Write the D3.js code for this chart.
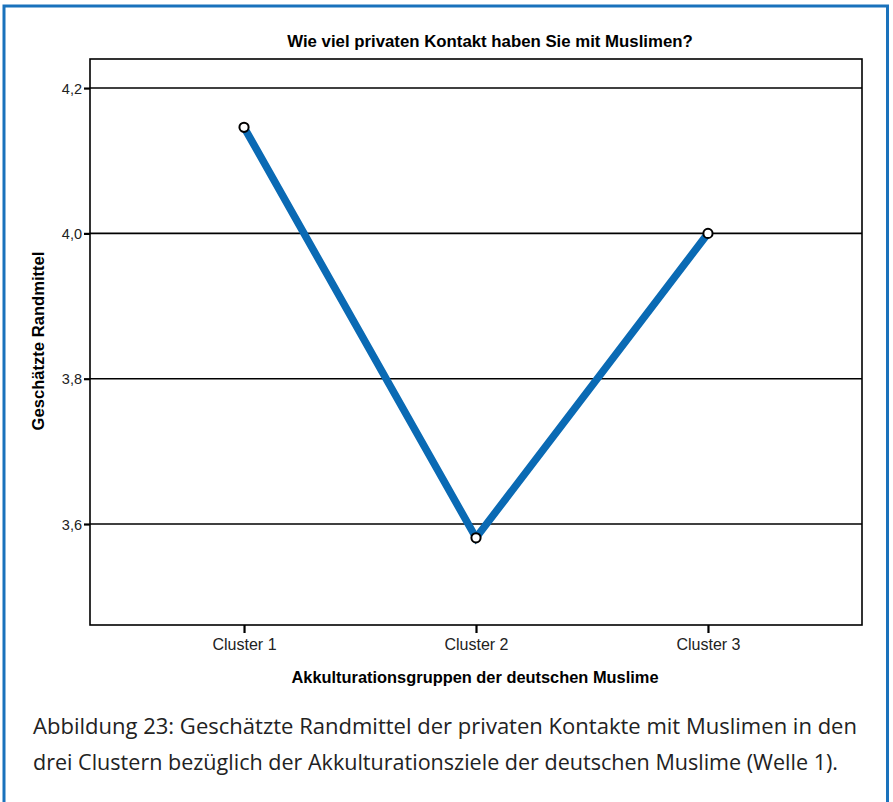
<!DOCTYPE html>
<html><head><meta charset="utf-8">
<script src="https://cdn.jsdelivr.net/npm/d3@7"></script>
<style>body{margin:0;background:#fff}svg{display:block}</style>
</head><body>
<svg id="c" width="893" height="802"></svg>
<script>
const categories = ["Cluster 1", "Cluster 2", "Cluster 3"];
const values = [4.146, 3.581, 4.0];
const yTicks = [3.6, 3.8, 4.0, 4.2];
const title = "Wie viel privaten Kontakt haben Sie mit Muslimen?";
const xTitle = "Akkulturationsgruppen der deutschen Muslime";
const yTitle = "Geschätzte Randmittel";
const caption = ["Abbildung 23: Geschätzte Randmittel der privaten Kontakte mit Muslimen in den",
                 "drei Clustern bezüglich der Akkulturationsziele der deutschen Muslime (Welle 1)."];

const FF = "Liberation Sans, Arial, sans-serif";
const svg = d3.select("#c");
// outer blue frame
svg.append("rect").attr("x",4).attr("y",6).attr("width",883.5).attr("height",810)
  .attr("fill","none").attr("stroke","#1a72bc").attr("stroke-width",3);

const L=90, R=862, T=59, B=625;
const x = d3.scalePoint().domain(categories).range([L,R]).padding(0.664);
const y = d3.scaleLinear().domain([3.461,4.24]).range([B,T]);

// grid lines
svg.append("g").selectAll("line").data(yTicks).join("line")
  .attr("x1",L).attr("x2",R).attr("y1",d=>y(d)).attr("y2",d=>y(d))
  .attr("stroke","#000").attr("stroke-width",1.6);

// frame
svg.append("rect").attr("x",L).attr("y",T).attr("width",R-L).attr("height",B-T)
  .attr("fill","none").attr("stroke","#000").attr("stroke-width",1.6);

const fmt = d => d3.format(".1f")(d).replace(".",",");
const ya = svg.append("g").attr("transform",`translate(${L},0)`)
  .call(d3.axisLeft(y).tickValues(yTicks).tickFormat(fmt).tickSize(6).tickPadding(2));
ya.select(".domain").remove();
ya.selectAll("line").attr("stroke","#000").attr("stroke-width",2.2);
ya.selectAll("text").attr("font-family",FF).attr("font-size",14.5).attr("fill","#222").attr("dy","0.35em");

const xa = svg.append("g").attr("transform",`translate(0,${B})`)
  .call(d3.axisBottom(x).tickSize(8).tickPadding(6));
xa.select(".domain").remove();
xa.selectAll("line").attr("stroke","#000").attr("stroke-width",2.2);
xa.selectAll("text").attr("font-family",FF).attr("font-size",16).attr("fill","#222");

// line
const data = categories.map((c,i)=>({c,v:values[i]}));
svg.append("path").datum(data)
  .attr("d", d3.line().x(d=>x(d.c)).y(d=>y(d.v)))
  .attr("fill","none").attr("stroke","#0a6ab4").attr("stroke-width",7.5).attr("stroke-linejoin","miter");
svg.append("g").selectAll("circle").data(data).join("circle")
  .attr("cx",d=>x(d.c)).attr("cy",d=>y(d.v)).attr("r",4.6)
  .attr("fill","#fff").attr("stroke","#000").attr("stroke-width",2);

// titles
svg.append("text").attr("x",490).attr("y",47).attr("text-anchor","middle")
  .attr("font-family",FF).attr("font-weight","bold").attr("font-size",16.8)
  .text(title);
svg.append("text").attr("x",475).attr("y",683).attr("text-anchor","middle")
  .attr("font-family",FF).attr("font-weight","bold").attr("font-size",16.4)
  .text(xTitle);
svg.append("text").attr("transform","translate(44,341) rotate(-90)").attr("text-anchor","middle")
  .attr("font-family",FF).attr("font-weight","bold").attr("font-size",16.6)
  .text(yTitle);

// caption
caption.forEach((t,i)=>{
  svg.append("text").attr("x",33).attr("y",734+i*36)
    .attr("font-family","Open Sans, sans-serif").attr("font-size",22).attr("fill","#222")
    .attr("textLength", i===0?824:805).attr("lengthAdjust","spacingAndGlyphs")
    .text(t);
});
</script>
</body></html>
